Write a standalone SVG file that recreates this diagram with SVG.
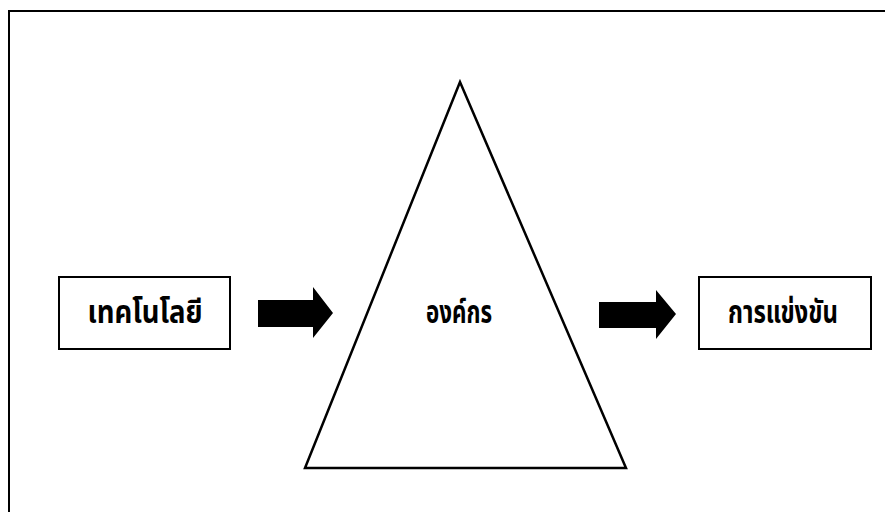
<svg xmlns="http://www.w3.org/2000/svg" width="885" height="512" viewBox="0 0 885 512">
  <style>
    .box { fill: #ffffff; stroke: #000000; stroke-width: 2; }
    .frame { fill: none; stroke: #000000; stroke-width: 2; }
    .tri { fill: #ffffff; stroke: #000000; stroke-width: 2.5; stroke-linejoin: miter; }
    .arrow { fill: #000000; stroke: none; }
    .label { font-family: "Noto Sans Thai", "Noto Sans", "DejaVu Sans", sans-serif; font-size: 32px; font-weight: bold; fill: #000000; text-anchor: middle; }
  </style>
  <rect width="885" height="512" fill="#ffffff"/>
  <!-- outer frame: open at the right and bottom edges -->
  <path class="frame" d="M9 512 V11 H885"/>

  <g id="organization">
    <polygon class="tri" points="460,82 305,468 626,468"/>
    <text class="label" x="459" y="323" textLength="66" lengthAdjust="spacingAndGlyphs">องค์กร</text>
  </g>

  <g id="technology">
    <rect class="box" x="59" y="277" width="171" height="72"/>
    <text class="label" x="145" y="323" textLength="115" lengthAdjust="spacingAndGlyphs">เทคโนโลยี</text>
  </g>

  <g id="competition">
    <rect class="box" x="699" y="277" width="172" height="72"/>
    <text class="label" x="783" y="323" textLength="110" lengthAdjust="spacingAndGlyphs">การแข่งขัน</text>
  </g>

  <g id="connectors">
    <polygon class="arrow" points="258,300 313,300 313,287 333,313 313,338 313,327 258,327"/>
    <polygon class="arrow" points="599,302 656,302 656,290 676,314 656,339 656,328 599,328"/>
  </g>
</svg>
